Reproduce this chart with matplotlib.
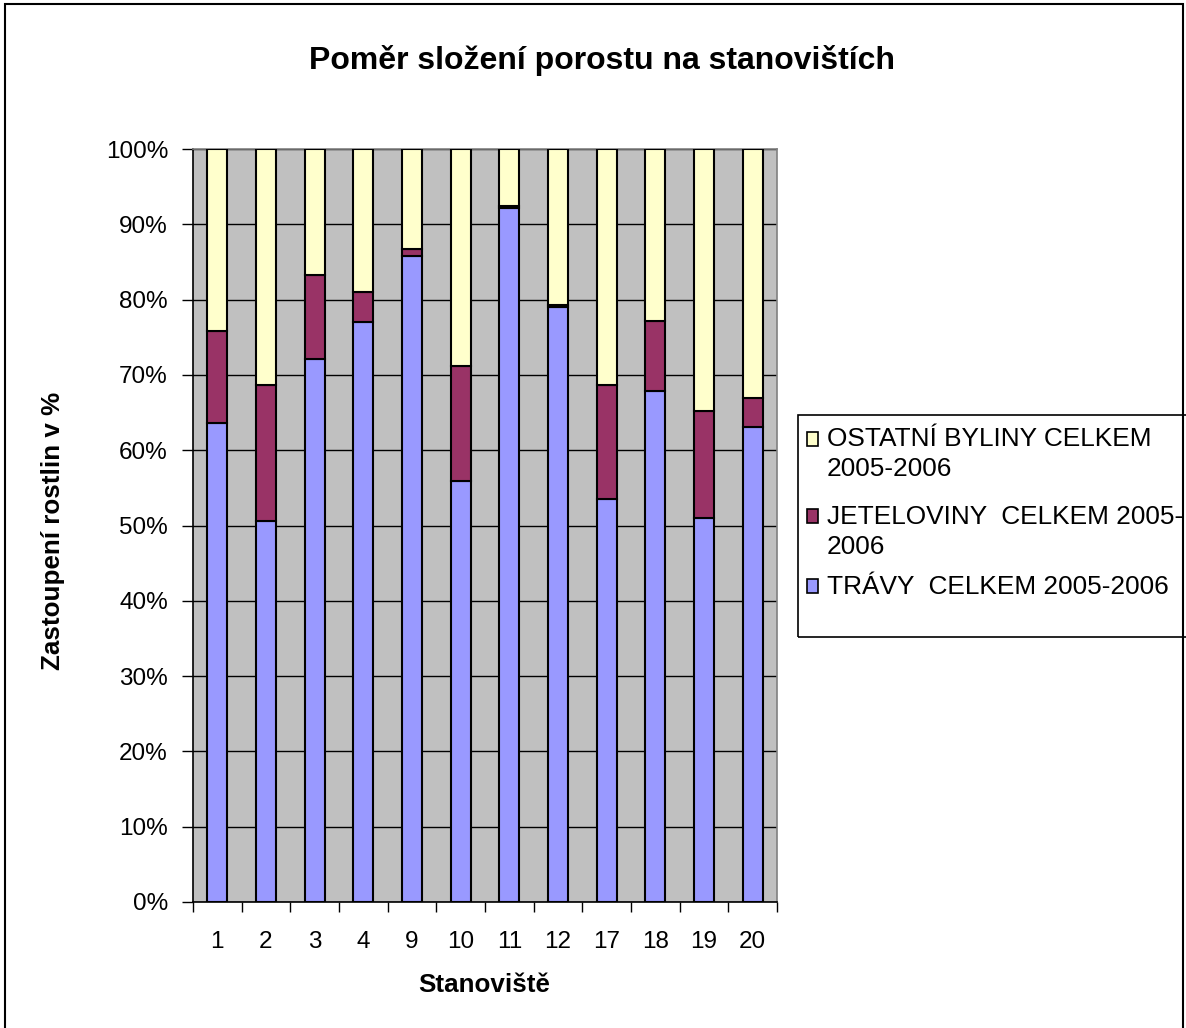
import numpy as np
import matplotlib.pyplot as plt
from matplotlib.patches import Rectangle
from matplotlib.ticker import FixedLocator, PercentFormatter

plt.rcParams["font.family"] = ["Liberation Sans", "DejaVu Sans"]

# stanoviště and shares (%)
sites = ["1", "2", "3", "4", "9", "10", "11", "12", "17", "18", "19", "20"]
travy = [63.6, 50.6, 72.1, 77.0, 85.8, 55.9, 92.1, 79.0, 53.5, 67.9, 51.0, 63.1]
jeteloviny = [12.2, 18.1, 11.2, 4.0, 0.9, 15.3, 0.3, 0.3, 15.2, 9.3, 14.2, 3.8]
ostatni = [100 - t - j for t, j in zip(travy, jeteloviny)]

labels = ["OSTATNÍ BYLINY CELKEM\n2005-2006",
          "JETELOVINY  CELKEM 2005-\n2006",
          "TRÁVY  CELKEM 2005-2006"]
colors = ["#FFFFCC", "#993366", "#9999FF"]

W, H = 1186, 1028
fig = plt.figure(figsize=(W / 100, H / 100), dpi=100)
ax = fig.add_axes([193 / W, 1 - 902 / H, (777 - 193) / W, (902 - 149) / H])

x = np.arange(len(sites))
bw = 0.41
ax.bar(x, travy, bw, color=colors[2], edgecolor="black", linewidth=1.5, zorder=3)
ax.bar(x, jeteloviny, bw, bottom=travy, color=colors[1], edgecolor="black",
       linewidth=1.5, zorder=3)
bottom2 = [t + j for t, j in zip(travy, jeteloviny)]
ax.bar(x, ostatni, bw, bottom=bottom2, color=colors[0], edgecolor="black",
       linewidth=1.5, zorder=3)

ax.set_facecolor("#C0C0C0")
ax.set_xlim(-0.5, len(sites) - 0.5)
ax.set_ylim(0, 100)
ax.yaxis.set_major_locator(FixedLocator(np.arange(0, 101, 10)))
ax.yaxis.set_major_formatter(PercentFormatter(decimals=0))
ax.grid(axis="y", color="black", linewidth=1.0, zorder=1)

ax.set_xticks(np.arange(-0.5, len(sites), 1.0))
ax.set_xticklabels([])
ax.set_xticks(x, minor=True)
ax.set_xticklabels(sites, minor=True)
ax.tick_params(axis="x", which="major", length=7, width=1, direction="out")
ax.tick_params(axis="x", which="minor", length=0, pad=21, labelsize=17.5)
ax.tick_params(axis="y", length=8, width=1, direction="out", pad=10, labelsize=17.5)

for s in ["left", "bottom"]:
    ax.spines[s].set_color("black")
    ax.spines[s].set_linewidth(1.2)
for s in ["top", "right"]:
    ax.spines[s].set_color("#808080")
    ax.spines[s].set_linewidth(1.2)

fig.text(484 / W, 1 - 985 / H, "Stanoviště", ha="center", va="center",
         fontsize=18.7, fontweight="bold")
fig.text(53 / W, 1 - 531 / H, "Zastoupení rostlin v %", ha="center", va="center",
         rotation=90, fontsize=18.7, fontweight="bold")
fig.text(602 / W, 1 - 60 / H, "Poměr složení porostu na stanovištích",
         ha="center", va="center", fontsize=23, fontweight="bold")

# chart area border
fig.patches.append(Rectangle((5 / W, -0.01), (1183 - 5) / W, 1.01 - 4 / H,
                             transform=fig.transFigure, fill=False,
                             edgecolor="black", linewidth=1.5))

# legend box, cut off at the right edge
fig.patches.append(Rectangle((798 / W, 1 - 637 / H), 0.5, (637 - 415) / H,
                             transform=fig.transFigure, fill=False,
                             edgecolor="black", linewidth=1.2))
line_y = [[437, 467], [514, 544], [584]]
for lab, col, ys in zip(labels, colors, line_y):
    fig.patches.append(Rectangle((807 / W, 1 - (ys[0] + 9) / H), 11 / W, 14 / H,
                                 transform=fig.transFigure, facecolor=col,
                                 edgecolor="black", linewidth=1.2))
    for part, yy in zip(lab.split("\n"), ys):
        fig.text(827 / W, 1 - yy / H, part, ha="left", va="center_baseline",
                 fontsize=18.9)

fig.savefig("out.png", dpi=100)
